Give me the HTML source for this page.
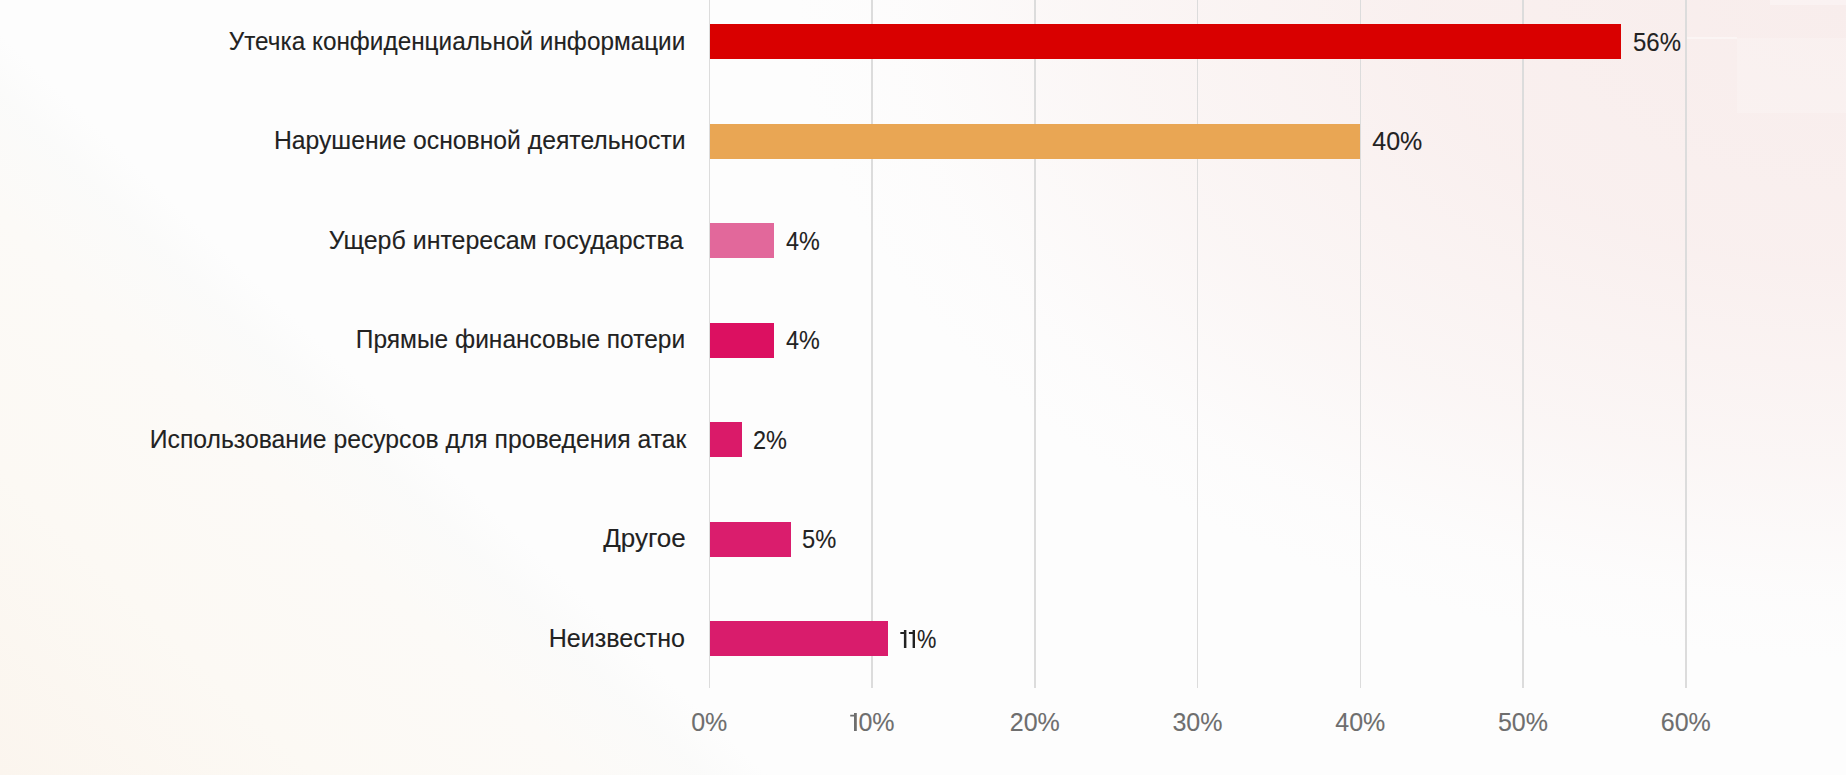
<!DOCTYPE html>
<html><head><meta charset="utf-8"><style>
html,body{margin:0;padding:0;}
body{width:1846px;height:775px;position:relative;overflow:hidden;font-family:"Liberation Sans",sans-serif;background:#fdfdfd;}
.bg{position:absolute;left:0;top:0;width:1846px;height:775px;
background:
radial-gradient(ellipse 1050px 660px at 1846px 0px, rgba(248,237,236,1) 0%, rgba(249,239,238,0.95) 40%, rgba(250,243,242,0.7) 70%, rgba(252,249,249,0.3) 90%, rgba(253,253,253,0) 100%),
linear-gradient(224deg, rgba(253,253,253,0) 0%, rgba(253,253,253,0) 71%, rgba(250,250,249,0.8) 73.5%, rgba(252,250,247,1) 78%, rgba(252,249,244,1) 88%, rgba(251,245,238,1) 100%);}
.r1{position:absolute;left:1737px;top:38px;width:109px;height:75px;background:rgba(255,255,255,0.18);}
.r2{position:absolute;left:1686px;top:37px;width:51px;height:1.5px;background:rgba(255,255,255,0.4);}
.r3{position:absolute;left:1770px;top:0px;width:76px;height:5px;background:rgba(255,255,255,0.3);}
.g{position:absolute;top:0;height:688px;width:1.5px;background:#dcdcdc;}
.bar{position:absolute;height:35px;}
.lab{position:absolute;-webkit-text-stroke:0.1px #222;right:1160px;white-space:nowrap;color:#222;font-size:25px;line-height:30px;transform-origin:100% 50%;}
.val{position:absolute;-webkit-text-stroke:0.1px #222;white-space:nowrap;color:#222;font-size:25px;line-height:30px;transform-origin:0 50%;}
.ax{position:absolute;-webkit-text-stroke:0.1px #6e6e6e;white-space:nowrap;color:#6e6e6e;font-size:25px;line-height:30px;width:100px;text-align:center;top:707px;}
</style></head><body>
<div class="bg"></div><div class="r1"></div><div class="r2"></div><div class="r3"></div>

<div class="g" style="left:708.55px"></div>
<div class="g" style="left:871.30px"></div>
<div class="g" style="left:1034.05px"></div>
<div class="g" style="left:1196.80px"></div>
<div class="g" style="left:1359.55px"></div>
<div class="g" style="left:1522.30px"></div>
<div class="g" style="left:1685.05px"></div>
<div class="bar" style="left:710px;top:24.0px;width:910.7px;background:#d90000"></div>
<div class="lab" style="top:25.5px;transform:translateX(-0.854px) scaleX(0.97307)">Утечка конфиденциальной информации</div>
<div class="val" style="left:1632.7px;top:26.5px;transform:scaleX(0.958)">56%</div>
<div class="bar" style="left:710px;top:123.5px;width:650.3px;background:#e9a654"></div>
<div class="lab" style="top:125.0px;transform:translateX(-0.672px) scaleX(0.98896)">Нарушение основной деятельности</div>
<div class="val" style="left:1372.3px;top:126.0px;transform:scaleX(1.0)">40%</div>
<div class="bar" style="left:710px;top:223.0px;width:64.4px;background:#e2689b"></div>
<div class="lab" style="top:224.5px;transform:translateX(-2.800px) scaleX(0.99859)">Ущерб интересам государства</div>
<div class="val" style="left:786.4px;top:225.5px;transform:scaleX(0.935)">4%</div>
<div class="bar" style="left:710px;top:322.5px;width:64.4px;background:#dc1061"></div>
<div class="lab" style="top:324.0px;transform:translateX(-0.689px) scaleX(0.98057)">Прямые финансовые потери</div>
<div class="val" style="left:786.4px;top:325.0px;transform:scaleX(0.935)">4%</div>
<div class="bar" style="left:710px;top:422.0px;width:31.8px;background:#da1a69"></div>
<div class="lab" style="top:423.5px;transform:translateX(-0.100px) scaleX(0.98909)">Использование ресурсов для проведения атак</div>
<div class="val" style="left:753.0px;top:424.5px;transform:scaleX(0.94)">2%</div>
<div class="bar" style="left:710px;top:521.5px;width:80.7px;background:#da1d6d"></div>
<div class="lab" style="top:523.0px;transform:translateX(-0.660px) scaleX(1.03974)">Другое</div>
<div class="val" style="left:801.9px;top:524.0px;transform:scaleX(0.947)">5%</div>
<div class="bar" style="left:710px;top:621.0px;width:178.3px;background:#d91c6c"></div>
<div class="lab" style="top:622.5px;transform:translateX(-0.897px) scaleX(1.00301)">Неизвестно</div>
<svg style="position:absolute;left:900px;top:630px" width="16" height="18" viewBox="0 0 16 18"><path fill="#222" d="M3.9 0H6.4V17.9H3.9V3.9H0.3V2.1H3.9Z M12.6 0H15.0V17.9H12.6V3.9H8.9V2.1H12.6Z"/></svg>
<div class="val" style="left:917px;top:623.5px;transform:scaleX(0.87)">%</div>
<div class="ax" style="left:659.3px">0%</div>
<svg style="position:absolute;left:850px;top:713px" width="8" height="18" viewBox="0 0 8 18"><path fill="#6e6e6e" d="M4.0 0H6.8V18H4.0V3.6H0.2V1.8H4.0Z"/></svg>
<div class="ax" style="left:858.4px;width:auto;text-align:left">0%</div>
<div class="ax" style="left:984.8px">20%</div>
<div class="ax" style="left:1147.5px">30%</div>
<div class="ax" style="left:1310.3px">40%</div>
<div class="ax" style="left:1473.0px">50%</div>
<div class="ax" style="left:1635.8px">60%</div>
</body></html>
